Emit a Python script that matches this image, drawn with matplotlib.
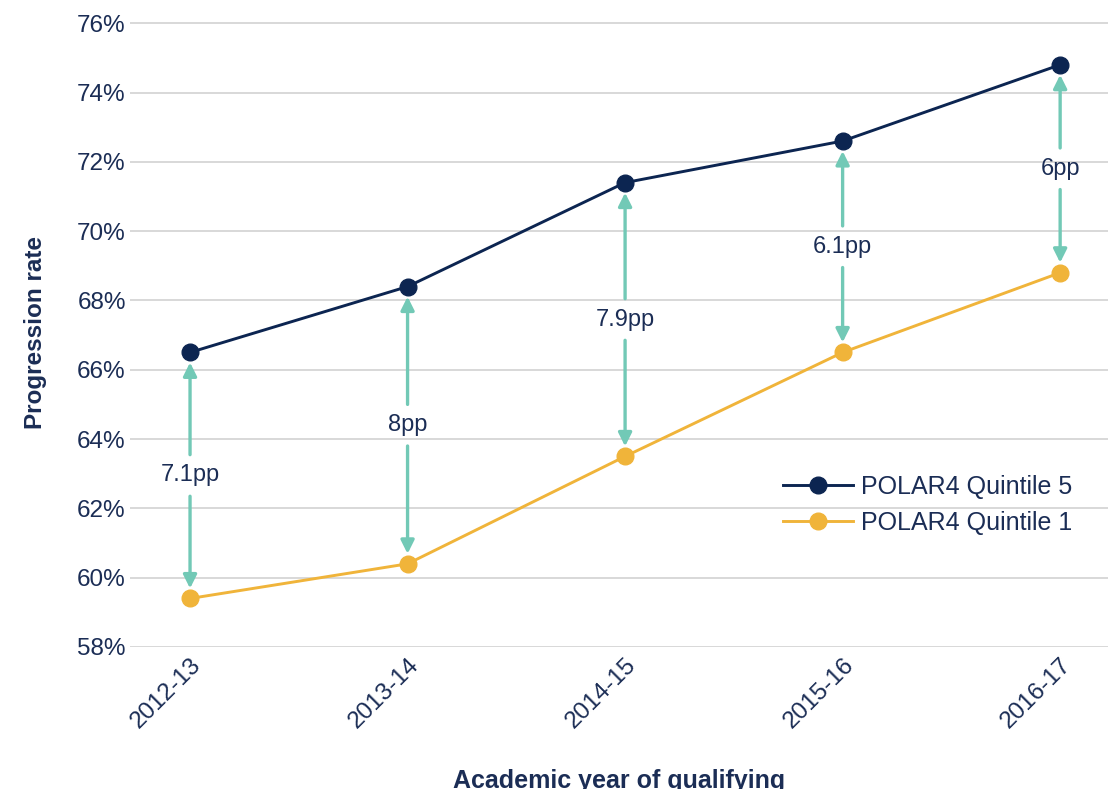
import matplotlib.pyplot as plt

plt.rcParams["font.family"] = ["Liberation Sans", "DejaVu Sans"]

years = ["2012-13", "2013-14", "2014-15", "2015-16", "2016-17"]
q5 = [66.5, 68.4, 71.4, 72.6, 74.8]
q1 = [59.4, 60.4, 63.5, 66.5, 68.8]
gap_labels = ["7.1pp", "8pp", "7.9pp", "6.1pp", "6pp"]
yticks = [58, 60, 62, 64, 66, 68, 70, 72, 74, 76]

navy = "#0c2551"
gold = "#f0b43a"
teal = "#72c9b6"
txt = "#1b2d55"

fig = plt.figure(figsize=(11.08, 7.89), dpi=100)
ax = fig.add_axes([130 / 1108, 1 - 647 / 789, 978 / 1108, (647 - 18) / 789])

x = list(range(len(years)))
ax.plot(x, q5, color=navy, lw=2.1, marker="o", ms=12, label="POLAR4 Quintile 5", zorder=4)
ax.plot(x, q1, color=gold, lw=2.1, marker="o", ms=12, label="POLAR4 Quintile 1", zorder=4)

# gap arrows with label in the middle
for i in x:
    mid = (q5[i] + q1[i]) / 2
    half = 0.6
    for end, start in [(q5[i] - 0.29, mid + half), (q1[i] + 0.29, mid - half)]:
        ax.annotate("", xy=(i, end), xytext=(i, start),
                    arrowprops=dict(arrowstyle="-|>,head_length=0.8,head_width=0.4",
                                    color=teal, lw=2.4, shrinkA=0, shrinkB=0), zorder=3)
    ax.text(i, mid, gap_labels[i], ha="center", va="center", fontsize=17, color=txt)

ax.set_xlim(-0.276, 4.22)
ax.set_ylim(58, 76.15)
ax.set_yticks(yticks)
ax.set_yticklabels([f"{v}%" for v in yticks])
ax.set_xticks(x)
ax.set_xticklabels(years, rotation=45, ha="right", rotation_mode="anchor")
ax.tick_params(axis="both", length=0, labelsize=17.5, labelcolor=txt)
ax.tick_params(axis="y", pad=3)
ax.tick_params(axis="x", pad=5)
ax.grid(axis="y", color="#d8d8d8", lw=1.4)
ax.set_axisbelow(True)
for s in ax.spines.values():
    s.set_visible(False)

ax.set_ylabel("Progression rate", fontsize=17.5, fontweight="bold", color=txt, labelpad=22)
ax.set_xlabel("Academic year of qualifying", fontsize=18, fontweight="bold", color=txt, labelpad=26)

leg = ax.legend(loc="upper left", bbox_to_anchor=(0.645, 0.31), frameon=False,
                fontsize=18, handlelength=2.8, labelspacing=0.5, handletextpad=0.3)
for t in leg.get_texts():
    t.set_color(txt)

fig.savefig("out.png", dpi=100, facecolor="white")
